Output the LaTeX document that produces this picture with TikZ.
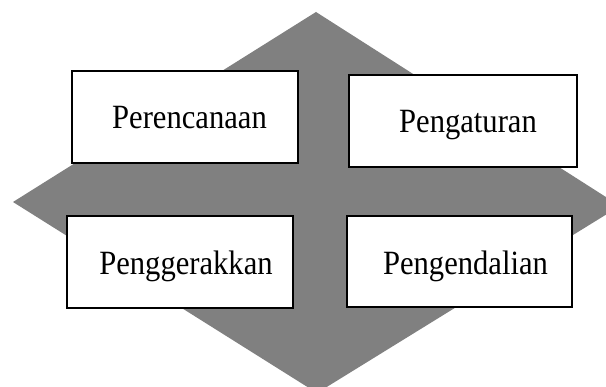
\documentclass[tikz,border=0pt]{standalone}
\usepackage{fontspec}
\setmainfont{Liberation Serif}
\definecolor{diagray}{RGB}{128,128,128}
\newcommand{\narrowtxt}[1]{\scalebox{0.9}[1]{#1}}
\tikzset{
  boxnode/.style={draw=black, line width=1.6pt, fill=white, inner sep=0pt},
  lbl/.style={anchor=base, inner sep=0pt, font=\fontsize{34}{36}\selectfont}
}
\begin{document}
\begin{tikzpicture}[x=1pt,y=-1pt]
\useasboundingbox (0,0) rectangle (606,387);
\fill[white] (0,0) rectangle (606,387);
\begin{scope}
\clip (0,0) rectangle (606,387);
\fill[diagray] (316,12) -- (620,206) -- (317,393) -- (13,202) -- cycle;
\end{scope}
\node[boxnode, minimum width=226pt, minimum height=92pt] (b1) at (185,117) {};
\node[boxnode, minimum width=228pt, minimum height=92pt] (b2) at (463,121) {};
\node[boxnode, minimum width=226pt, minimum height=92pt] (b3) at (180,262) {};
\node[boxnode, minimum width=225pt, minimum height=91pt] (b4) at (459.5,261.5) {};
\node[lbl] (t1) at (189.5,128.5) {\narrowtxt{Perencanaan}};
\node[lbl] (t2) at (468,133) {\narrowtxt{Pengaturan}};
\node[lbl] (t3) at (186,275) {\narrowtxt{Penggerakkan}};
\node[lbl] (t4) at (465.5,275) {\narrowtxt{Pengendalian}};
\end{tikzpicture}
\end{document}
